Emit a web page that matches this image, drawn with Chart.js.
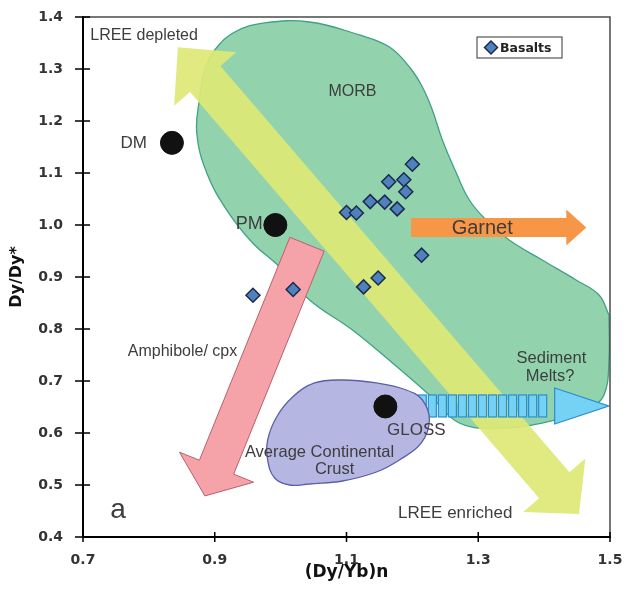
<!DOCTYPE html>
<html>
<head>
<meta charset="utf-8">
<script src="https://cdn.jsdelivr.net/npm/chart.js@4.4.1/dist/chart.umd.min.js"></script>
<style>
  html, body { margin: 0; padding: 0; background: #fff; }
</style>
</head>
<body>
<canvas id="chart" width="627" height="596"></canvas>
<script>
// axis ticks
const xTicks = [0.7, 0.9, 1.1, 1.3, 1.5];
const yTicks = [0.4, 0.5, 0.6, 0.7, 0.8, 0.9, 1.0, 1.1, 1.2, 1.3, 1.4];

// basalt samples
const basaltX = [0.958, 1.019, 1.100, 1.115, 1.126, 1.136, 1.148, 1.158, 1.164, 1.177, 1.187, 1.190, 1.200, 1.214];
const basaltY = [0.865, 0.876, 1.024, 1.023, 0.881, 1.045, 0.898, 1.044, 1.083, 1.031, 1.087, 1.064, 1.117, 0.942];

// reservoirs (black dots)
const refNames = ['DM', 'PM', 'GLOSS'];
const refX = [0.835, 0.992, 1.159];
const refY = [1.158, 1.000, 0.651];

// MORB field outline
const morbX = [1.4985, 1.4985, 1.4909, 1.4682, 1.397, 1.3273, 1.2712, 1.2258, 1.1697, 1.1091, 1.0439, 0.9985, 0.9576, 0.9182, 0.8879, 0.8727, 0.8773, 0.8848, 0.9, 0.9303, 0.9758, 1.0439, 1.1197, 1.1652, 1.1955, 1.2152, 1.2303, 1.2455, 1.2667, 1.2864, 1.3121, 1.347, 1.397, 1.4485, 1.4833, 1.4985];
const morbY = [0.8269, 0.7404, 0.6731, 0.6481, 0.6192, 0.6096, 0.6192, 0.6731, 0.7346, 0.7981, 0.8558, 0.9192, 0.9654, 1.0288, 1.1, 1.1769, 1.2462, 1.2981, 1.3365, 1.3712, 1.3885, 1.3904, 1.3654, 1.3423, 1.3038, 1.2654, 1.2212, 1.1635, 1.1, 1.0481, 1.0096, 0.9712, 0.9327, 0.8942, 0.8654, 0.8269];

// average continental crust outline
const crustX = [1.0439, 1.0136, 0.9909, 0.9803, 0.9803, 0.9939, 1.0182, 1.0515, 1.0939, 1.1455, 1.1909, 1.2152, 1.2258, 1.2136, 1.1803, 1.1455, 1.0939, 1.0439];
const crustY = [0.5019, 0.5, 0.5135, 0.5481, 0.5865, 0.6308, 0.6692, 0.6962, 0.7019, 0.6962, 0.6827, 0.6635, 0.625, 0.5808, 0.5481, 0.525, 0.5077, 0.5019];

// trend arrows: [start, end] in data units
const lreeArrow = [[0.844, 1.342], [1.453, 0.444]];
const amphArrow = [[1.040, 0.963], [0.885, 0.479]];
const garnetArrow = [[1.198, 0.995], [1.464, 0.995]];
const sedArrow = [[1.177, 0.652], [1.498, 0.652]];

// text annotations
const labelText = ['LREE depleted', 'MORB', 'DM', 'PM', 'Garnet', 'Amphibole/ cpx', 'Average Continental', 'Crust', 'GLOSS', 'Sediment', 'Melts?', 'LREE enriched', 'a'];
const labelX = [0.711, 1.109, 0.797, 0.9727, 1.306, 0.768, 1.059, 1.082, 1.206, 1.411, 1.409, 1.265, 0.753];
const labelY = [1.365, 1.256, 1.158, 1.002, 0.994, 0.756, 0.563, 0.529, 0.606, 0.744, 0.708, 0.446, 0.452];

const labelAlign = ['left', 'center', 'right', 'right', 'center', 'left', 'center', 'center', 'center', 'center', 'center', 'center', 'center'];
const labelSize = [16, 16, 17, 18, 20, 16, 16.5, 16.5, 17, 16.5, 16.5, 17, 28];

const pts = (xs, ys) => xs.map((x, i) => ({ x: x, y: ys[i] }));

function arrowPath(ctx, a, b, shaftW, headW, headL, headL0) {
  const dx = b.x - a.x, dy = b.y - a.y;
  const len = Math.hypot(dx, dy);
  const ux = dx / len, uy = dy / len;
  const nx = -uy, ny = ux;
  const p = (o, along, side) => [o.x + ux * along + nx * side, o.y + uy * along + ny * side];
  let poly = [];
  if (headL0) {
    poly.push(p(a, 0, 0), p(a, headL0, headW / 2), p(a, headL0, shaftW / 2));
  } else {
    poly.push(p(a, 0, shaftW / 2));
  }
  poly.push(p(b, -headL, shaftW / 2), p(b, -headL, headW / 2), p(b, 0, 0),
    p(b, -headL, -headW / 2), p(b, -headL, -shaftW / 2));
  if (headL0) {
    poly.push(p(a, headL0, -shaftW / 2), p(a, headL0, -headW / 2));
  } else {
    poly.push(p(a, 0, -shaftW / 2));
  }
  ctx.beginPath();
  poly.forEach((q, i) => i ? ctx.lineTo(q[0], q[1]) : ctx.moveTo(q[0], q[1]));
  ctx.closePath();
}

const overlay = {
  id: 'overlay',
  afterDatasetDraw(chart, args) {
    if (args.index !== 3) return;
    const { ctx, chartArea: ca } = chart;
    const xs = chart.scales.x, ys = chart.scales.y;
    const px = v => ({ x: xs.getPixelForValue(v[0]), y: ys.getPixelForValue(v[1]) });
    ctx.save();
    ctx.beginPath();
    ctx.rect(ca.left, ca.top, ca.right - ca.left, ca.bottom - ca.top);
    ctx.clip();

    // LREE double arrow
    arrowPath(ctx, px(lreeArrow[0]), px(lreeArrow[1]), 40, 82, 38, 42);
    ctx.fillStyle = 'rgba(222, 232, 118, 0.93)';
    ctx.fill();

    // amphibole / cpx
    arrowPath(ctx, px(amphArrow[0]), px(amphArrow[1]), 37, 80, 31);
    ctx.fillStyle = '#f5a3a8';
    ctx.fill();
    ctx.strokeStyle = '#b9606c';
    ctx.lineWidth = 1;
    ctx.stroke();

    // garnet
    arrowPath(ctx, px(garnetArrow[0]), px(garnetArrow[1]), 19, 36, 20);
    ctx.fillStyle = '#f79646';
    ctx.fill();

    // sediment melts: striped shaft + head
    const s0 = px(sedArrow[0]), s1 = px(sedArrow[1]);
    const headL = 54, gap = 7, n = 15;
    const shaftEnd = s1.x - headL - gap;
    const step = (shaftEnd - s0.x) / n;
    ctx.fillStyle = '#76d2f5';
    ctx.strokeStyle = '#2a8dcc';
    ctx.lineWidth = 1.2;
    for (let i = 0; i < n; i++) {
      const x = s0.x + i * step + 1;
      ctx.fillRect(x, s0.y - 11, step - 2, 22);
      ctx.strokeRect(x, s0.y - 11, step - 2, 22);
    }
    ctx.beginPath();
    ctx.moveTo(s1.x - headL, s1.y - 18);
    ctx.lineTo(s1.x, s1.y);
    ctx.lineTo(s1.x - headL, s1.y + 18);
    ctx.closePath();
    ctx.fill();
    ctx.stroke();
    ctx.restore();
  },
  afterDatasetsDraw(chart) {
    const { ctx, chartArea: ca } = chart;
    const xs = chart.scales.x, ys = chart.scales.y;
    ctx.save();
    // annotations
    ctx.textBaseline = 'middle';
    labelText.forEach((t, i) => {
      ctx.font = labelSize[i] + 'px "Liberation Sans", Arial, sans-serif';
      ctx.fillStyle = '#3d3d3d';
      ctx.textAlign = labelAlign[i];
      ctx.fillText(t, xs.getPixelForValue(labelX[i]), ys.getPixelForValue(labelY[i]));
    });

    // frame (top/right)
    ctx.strokeStyle = '#4a4a4a';
    ctx.lineWidth = 1.5;
    ctx.beginPath();
    ctx.moveTo(ca.left, ca.top);
    ctx.lineTo(ca.right, ca.top);
    ctx.lineTo(ca.right, ca.bottom);
    ctx.stroke();

    // crossing tick marks
    ctx.strokeStyle = '#000';
    ctx.lineWidth = 1.5;
    ctx.beginPath();
    xTicks.forEach(v => {
      const x = xs.getPixelForValue(v);
      ctx.moveTo(x, ca.bottom - 5);
      ctx.lineTo(x, ca.bottom + 5);
    });
    yTicks.forEach(v => {
      const y = ys.getPixelForValue(v);
      ctx.moveTo(ca.left - 8, y);
      ctx.lineTo(ca.left + 7, y);
    });
    ctx.stroke();

    // legend box
    const lx = 477, ly = 37, lw = 85, lh = 21;
    ctx.fillStyle = '#fff';
    ctx.fillRect(lx, ly, lw, lh);
    ctx.strokeStyle = '#555';
    ctx.lineWidth = 1.2;
    ctx.strokeRect(lx, ly, lw, lh);
    const cx = lx + 14, cy = ly + lh / 2;
    ctx.beginPath();
    ctx.moveTo(cx, cy - 6.5);
    ctx.lineTo(cx + 6.5, cy);
    ctx.lineTo(cx, cy + 6.5);
    ctx.lineTo(cx - 6.5, cy);
    ctx.closePath();
    ctx.fillStyle = '#4f81bd';
    ctx.fill();
    ctx.strokeStyle = '#1c2a4d';
    ctx.lineWidth = 1.5;
    ctx.stroke();
    ctx.font = 'bold 12.5px "DejaVu Sans", sans-serif';
    ctx.fillStyle = '#222';
    ctx.textAlign = 'left';
    ctx.fillText('Basalts', lx + 23, cy + 1);
    ctx.restore();
  }
};

new Chart(document.getElementById('chart'), {
  type: 'scatter',
  data: {
    datasets: [
      {
        label: 'References',
        data: pts(refX, refY),
        pointRadius: 11.5,
        pointHoverRadius: 11.5,
        backgroundColor: '#111',
        borderColor: '#111',
        order: 0
      },
      {
        label: 'Basalts',
        data: pts(basaltX, basaltY),
        pointStyle: 'rectRot',
        pointRadius: 7,
        pointHoverRadius: 7,
        backgroundColor: '#4f81bd',
        borderColor: '#1c2a4d',
        borderWidth: 1.5,
        order: 1
      },
      {
        label: 'Average Continental Crust',
        data: pts(crustX, crustY),
        showLine: true,
        fill: 'shape',
        tension: 0.4,
        pointRadius: 0,
        borderColor: '#5c5fa8',
        borderWidth: 1.3,
        backgroundColor: '#b6b6e2',
        order: 3
      },
      {
        label: 'MORB',
        data: pts(morbX, morbY),
        showLine: true,
        fill: 'shape',
        tension: 0.4,
        pointRadius: 0,
        borderColor: '#3fa283',
        borderWidth: 1.3,
        backgroundColor: '#92d3ae',
        order: 4
      }
    ]
  },
  options: {
    responsive: false,
    animation: false,
    layout: { padding: { top: 17, right: 17, left: 0, bottom: 0 } },
    plugins: {
      legend: { display: false },
      tooltip: { enabled: false }
    },
    scales: {
      x: {
        type: 'linear',
        min: 0.7,
        max: 1.5,
        afterBuildTicks: s => { s.ticks = xTicks.map(v => ({ value: v })); },
        afterFit: s => { s.height = 59; s.paddingLeft = 0; s.paddingRight = 0; },
        grid: { display: false, drawTicks: false },
        border: { display: true, color: '#000', width: 2 },
        ticks: {
          padding: 15,
          color: '#333',
          font: { family: '"DejaVu Sans", sans-serif', size: 14, weight: 'bold' },
          callback: v => v.toFixed(1)
        },
        title: {
          display: true,
          text: '(Dy/Yb)n',
          color: '#111',
          font: { family: '"DejaVu Sans", sans-serif', size: 17, weight: 'bold' },
          padding: { top: 0, bottom: 13 }
        }
      },
      y: {
        type: 'linear',
        min: 0.4,
        max: 1.4,
        afterBuildTicks: s => { s.ticks = yTicks.map(v => ({ value: v })); },
        afterFit: s => { s.width = 83; s.paddingTop = 0; s.paddingBottom = 0; },
        grid: { display: false, drawTicks: false },
        border: { display: true, color: '#000', width: 2 },
        ticks: {
          padding: 20,
          color: '#333',
          font: { family: '"DejaVu Sans", sans-serif', size: 14, weight: 'bold' },
          callback: v => v.toFixed(1)
        },
        title: {
          display: true,
          text: 'Dy/Dy*',
          color: '#111',
          font: { family: '"DejaVu Sans", sans-serif', size: 16, weight: 'bold' },
          padding: { top: 7, bottom: 0 }
        }
      }
    }
  },
  plugins: [overlay]
});
</script>
</body>
</html>
